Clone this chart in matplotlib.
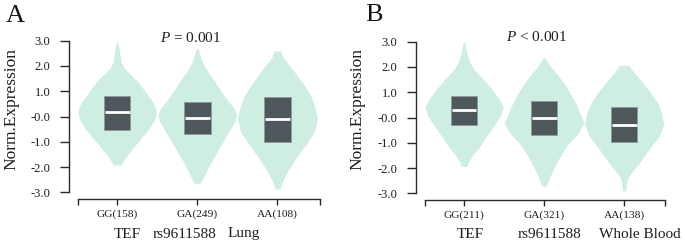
import matplotlib
matplotlib.use("Agg")
import matplotlib.pyplot as plt
import numpy as np

plt.rcParams['font.family'] = ['Liberation Serif', 'DejaVu Serif']
plt.rcParams['mathtext.fontset'] = 'custom'
plt.rcParams['mathtext.rm'] = 'Liberation Serif'
plt.rcParams['mathtext.it'] = 'Liberation Serif:italic'

# ---------------- data ----------------
lung_groups = ['GG(158)', 'GA(249)', 'AA(108)']
lung_q1 = [-0.52, -0.69, -1.02]
lung_med = [0.18, -0.05, -0.11]
lung_q3 = [0.80, 0.59, 0.76]
lung_p = 'P = 0.001'

# violin outlines: expression level and half-width (category units)
lung_gg_y = [2.93, 2.56, 2.17, 1.90, 1.64, 1.38, 1.11, 0.85, 0.59, 0.32, 0.13, -0.14, -0.47, -0.86, -1.26, -1.59, -1.79, -1.92]
lung_gg_w = [0.01, 0.03, 0.05, 0.09, 0.175, 0.26, 0.32, 0.38, 0.44, 0.48, 0.49, 0.465, 0.40, 0.30, 0.195, 0.11, 0.07, 0.05]
lung_ga_y = [2.69, 2.17, 1.77, 1.38, 0.98, 0.59, 0.32, 0.06, -0.20, -0.73, -1.26, -1.79, -2.31, -2.64]
lung_ga_w = [0.01, 0.06, 0.13, 0.22, 0.30, 0.39, 0.46, 0.49, 0.47, 0.37, 0.27, 0.175, 0.09, 0.04]
lung_aa_y = [2.59, 2.30, 2.04, 1.64, 1.25, 0.85, 0.45, -0.07, -0.60, -1.13, -1.65, -2.18, -2.58, -2.87]
lung_aa_w = [0.04, 0.075, 0.145, 0.24, 0.33, 0.41, 0.46, 0.50, 0.46, 0.35, 0.23, 0.125, 0.06, 0.03]

blood_groups = ['GG(211)', 'GA(321)', 'AA(138)']
blood_q1 = [-0.31, -0.70, -0.97]
blood_med = [0.30, -0.03, -0.31]
blood_q3 = [0.85, 0.65, 0.415]
blood_p = 'P < 0.001'

blood_gg_y = [2.98, 2.56, 2.17, 1.90, 1.51, 1.11, 0.72, 0.39, 0.06, -0.34, -0.73, -1.13, -1.52, -1.79, -1.94]
blood_gg_w = [0.01, 0.033, 0.075, 0.125, 0.24, 0.35, 0.44, 0.49, 0.45, 0.37, 0.28, 0.20, 0.10, 0.05, 0.033]
blood_ga_y = [2.36, 2.04, 1.64, 1.25, 0.85, 0.45, 0.06, -0.20, -0.60, -1.13, -1.65, -2.18, -2.58, -2.71]
blood_ga_w = [0.01, 0.075, 0.18, 0.27, 0.345, 0.41, 0.46, 0.50, 0.43, 0.28, 0.18, 0.095, 0.045, 0.02]
blood_aa_y = [2.06, 1.77, 1.38, 0.98, 0.59, 0.19, -0.27, -0.73, -1.26, -1.79, -2.18, -2.44, -2.90]
blood_aa_w = [0.06, 0.125, 0.23, 0.33, 0.415, 0.465, 0.495, 0.44, 0.31, 0.19, 0.09, 0.04, 0.02]

y_ticks = [-3, -2, -1, 0, 1, 2, 3]
y_ticklabels = ['-3.0', '-2.0', '-1.0', '-0.0', '1.0', '2.0', '3.0']

lung_caption = ['TEF', 'rs9611588', 'Lung']
blood_caption = ['TEF', 'rs9611588', 'Whole Blood']

# ---------------- style ----------------
VIOLIN = '#cdeee0'
BOX = '#4e585c'
AXC = '#2a2a2a'
TXT = '#1e1e1e'
BOXW = 0.33

fig = plt.figure(figsize=(6.85, 2.47), dpi=100)


def panel(rect, groups, q1, med, q3, prof_y, prof_w, xright):
    ax = fig.add_axes(rect)
    for i in range(len(groups)):
        y = np.array(prof_y[i])
        w = np.array(prof_w[i])
        ax.fill_betweenx(y, i - w, i + w, color=VIOLIN, lw=0, zorder=1)
    ax.bar(range(len(groups)), np.array(q3) - np.array(q1), bottom=q1,
           width=BOXW, color=BOX, edgecolor='#8e989b', linewidth=0.6, zorder=2)
    for i in range(len(groups)):
        ax.plot([i - BOXW / 2 + 0.01, i + BOXW / 2 - 0.01], [med[i], med[i]],
                color='white', lw=2.0, solid_capstyle='butt', zorder=3)
    ax.set_xlim(-0.60, xright)
    ax.set_ylim(-3.26, 3.1)
    for s in ('top', 'right'):
        ax.spines[s].set_visible(False)
    ax.spines['left'].set_bounds(-3, 3)
    ax.spines['bottom'].set_bounds(-0.486, xright)
    for s in ('left', 'bottom'):
        ax.spines[s].set_color(AXC)
        ax.spines[s].set_linewidth(1.0)
    ax.set_yticks(y_ticks)
    ax.set_yticklabels(y_ticklabels)
    ax.tick_params(axis='y', length=6.5, width=1.0, pad=7, colors=AXC,
                   labelsize=9, labelcolor=TXT)
    ax.set_xticks(range(len(groups)))
    ax.set_xticklabels(groups)
    ax.set_xticks([-0.486, xright - 0.003], minor=True)
    ax.tick_params(axis='x', which='both', length=4.3, width=1.0, colors=AXC)
    ax.tick_params(axis='x', which='major', pad=3, labelsize=8.2, labelcolor=TXT)
    return ax


panel([69 / 685, 48 / 247, 251 / 685, 160.9 / 247], lung_groups, lung_q1, lung_med, lung_q3,
      [lung_gg_y, lung_ga_y, lung_aa_y], [lung_gg_w, lung_ga_w, lung_aa_w], 2.53)
panel([416 / 685, 47 / 247, 249 / 685, 160.9 / 247], blood_groups, blood_q1, blood_med, blood_q3,
      [blood_gg_y, blood_ga_y, blood_aa_y], [blood_gg_w, blood_ga_w, blood_aa_w], 2.51)

# titles
fig.text(191 / 685, 1 - 38 / 247, r'$P$' + lung_p[1:], ha='center', va='center', fontsize=11, color=TXT)
fig.text(537 / 685, 1 - 37 / 247, r'$P$' + blood_p[1:], ha='center', va='center', fontsize=11, color=TXT)

# y labels
fig.text(11 / 685, 1 - 109 / 247, 'Norm.Expression', rotation=90, ha='center', va='center', fontsize=12.5, color=TXT)
fig.text(357 / 685, 1 - 109 / 247, 'Norm.Expression', rotation=90, ha='center', va='center', fontsize=12.5, color=TXT)

# panel letters
fig.text(15 / 685, 1 - 16 / 247, 'A', ha='center', va='center', fontsize=19, color='#111111')
fig.text(374 / 685, 1 - 15 / 247, 'B', ha='center', va='center', fontsize=19, color='#111111')

# bottom captions
for x, s in zip([127, 185, 244], lung_caption):
    fig.text(x / 685, 1 - 234 / 247, s, ha='center', va='center', fontsize=11, color=TXT)
for x, s in zip([470, 550, 640], blood_caption):
    fig.text(x / 685, 1 - 234 / 247, s, ha='center', va='center', fontsize=11, color=TXT)

fig.savefig('out.png', dpi=100)
